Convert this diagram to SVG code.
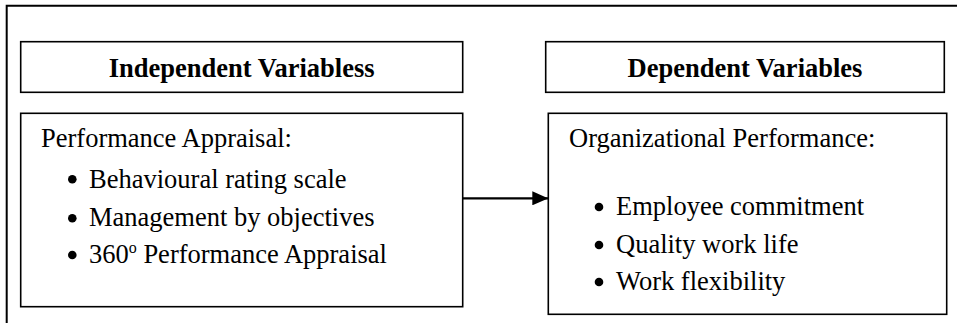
<svg xmlns="http://www.w3.org/2000/svg" width="961" height="323" viewBox="0 0 961 323">
<style>
.frame{fill:none;stroke:#000;stroke-width:2}
.box{fill:#fff;stroke:#000;stroke-width:1.6}
.h{font-family:"Liberation Serif","Times New Roman",serif;font-weight:bold;font-size:26.5px;fill:#000;text-anchor:middle}
.t{font-family:"Liberation Serif","Times New Roman",serif;font-size:26.5px;fill:#000}
.dot{fill:#000}
.conn{stroke:#000;stroke-width:2.2;fill:none}
</style>
<defs>
<marker id="arr" markerWidth="16" markerHeight="14" refX="16" refY="7" orient="auto" markerUnits="userSpaceOnUse">
<path d="M0,0 L16,7 L0,14 Z" fill="#000"/>
</marker>
</defs>
<rect width="961" height="323" fill="#fff"/>
<path class="frame" d="M6.7,323 V5.7 H957"/>
<g id="indep-header">
<rect class="box" x="20.7" y="41.7" width="442" height="50.6"/>
<text class="h" x="241.7" y="77">Independent Variabless</text>
</g>
<g id="dep-header">
<rect class="box" x="545.7" y="41.7" width="398.6" height="50.6"/>
<text class="h" x="745" y="77">Dependent Variables</text>
</g>
<g id="indep-body">
<rect class="box" x="20.7" y="113.3" width="442" height="193.4"/>
<text class="t" x="41" y="147">Performance Appraisal:</text>
<circle class="dot" cx="72.3" cy="179.3" r="4.3"/><text class="t" x="89" y="188">Behavioural rating scale</text>
<circle class="dot" cx="72.3" cy="218.3" r="4.3"/><text class="t" x="89" y="226">Management by objectives</text>
<circle class="dot" cx="72.3" cy="255" r="4.3"/><text class="t" x="89" y="263">360<tspan font-size="16" dy="-10">o</tspan><tspan dy="10"> Performance Appraisal</tspan></text>
</g>
<g id="dep-body">
<rect class="box" x="548.3" y="113.3" width="398.4" height="201"/>
<text class="t" x="569" y="147">Organizational Performance:</text>
<circle class="dot" cx="599" cy="207" r="4.3"/><text class="t" x="616" y="215">Employee commitment</text>
<circle class="dot" cx="599" cy="245" r="4.3"/><text class="t" x="616" y="253">Quality work life</text>
<circle class="dot" cx="599" cy="282" r="4.3"/><text class="t" x="616" y="290">Work flexibility</text>
</g>
<g id="connectors">
<line class="conn" x1="462.7" y1="198.3" x2="548.3" y2="198.3" marker-end="url(#arr)"/>
</g>
</svg>
